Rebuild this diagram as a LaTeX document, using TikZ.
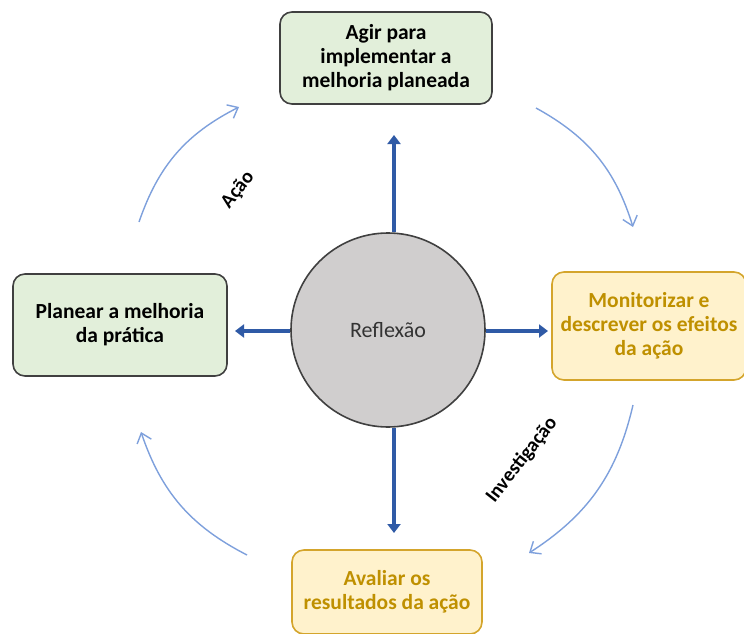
\documentclass[tikz,border=0pt]{standalone}
\usepackage{fontspec}
\setmainfont{Carlito}
\usetikzlibrary{arrows.meta}
\definecolor{verde}{HTML}{E2EFDA}
\definecolor{amarelo}{HTML}{FFF2CC}
\definecolor{ouro}{HTML}{D4A52C}
\definecolor{textoouro}{HTML}{BF9000}
\definecolor{cinza}{HTML}{D0CECE}
\definecolor{azul}{HTML}{2F5AA6}
\definecolor{azulclaro}{HTML}{7EA0DC}
\tikzset{
  caixaverde/.style={draw=black!75, fill=verde, line width=1.6pt, rounded corners=12pt, align=center, font=\fontsize{21.5}{24}\selectfont\bfseries},
  caixaamarela/.style={draw=ouro, fill=amarelo, line width=1.6pt, rounded corners=12pt, align=center, text=textoouro, font=\fontsize{21.5}{24}\selectfont\bfseries},
  seta/.style={azul, line width=4.5pt, -{Triangle[width=13pt,length=9pt]}},
  ciclo/.style={azulclaro, line width=1.4pt, bend left=22, -{Straight Barb[length=9pt,width=15pt]}},
  rotulo/.style={font=\fontsize{20}{24}\selectfont\bfseries, rotate=52}
}
\begin{document}
\begin{tikzpicture}[x=1pt,y=-1pt]
\useasboundingbox (0,0) rectangle (744,634);

%the four boxes and the circle
\node[caixaverde, minimum width=212pt, minimum height=92pt] (agir) at (386,58) {Agir para\\implementar a\\melhoria planeada};
\node[caixaamarela, minimum width=194pt, minimum height=108pt] (monitorizar) at (649,326) {Monitorizar e\\descrever os efeitos\\da ação};
\node[caixaamarela, minimum width=190pt, minimum height=84pt] (avaliar) at (387,592) {Avaliar os\\resultados da ação};
\node[caixaverde, minimum width=214pt, minimum height=102pt] (planear) at (120,325) {Planear a melhoria\\da prática};
\node[circle, draw=black!75, fill=cinza, line width=1.6pt, minimum size=194pt, text=black!80, font=\fontsize{22}{24}\selectfont] (reflexao) at (388,330) {Reflexão};

%ends of the blue arrows
\coordinate (cima) at (394,135);
\coordinate (baixo) at (394,533);
\coordinate (esq) at (235,331);
\coordinate (dir) at (548,331);
\draw[seta] (reflexao.north -| cima) -- (cima);
\draw[seta] (reflexao.south -| baixo) -- (baixo);
\draw[seta] (reflexao.west |- esq) -- (esq);
\draw[seta] (reflexao.east |- dir) -- (dir);

%the cycle arrows
\coordinate (a1) at (139,222);
\coordinate (a2) at (239,107);
\coordinate (b1) at (536,108);
\coordinate (b2) at (633,227);
\coordinate (c1) at (633,405);
\coordinate (c2) at (529,553);
\coordinate (d1) at (247,555);
\coordinate (d2) at (141,432);
\draw[ciclo] (a1) to (a2);
\draw[ciclo] (b1) to (b2);
\draw[ciclo] (c1) to (c2);
\draw[ciclo] (d1) to (d2);

\node[rotulo] (acao) at (238,190) {Ação};
\node[rotulo] (investigacao) at (522,460) {Investigação};
\end{tikzpicture}
\end{document}
